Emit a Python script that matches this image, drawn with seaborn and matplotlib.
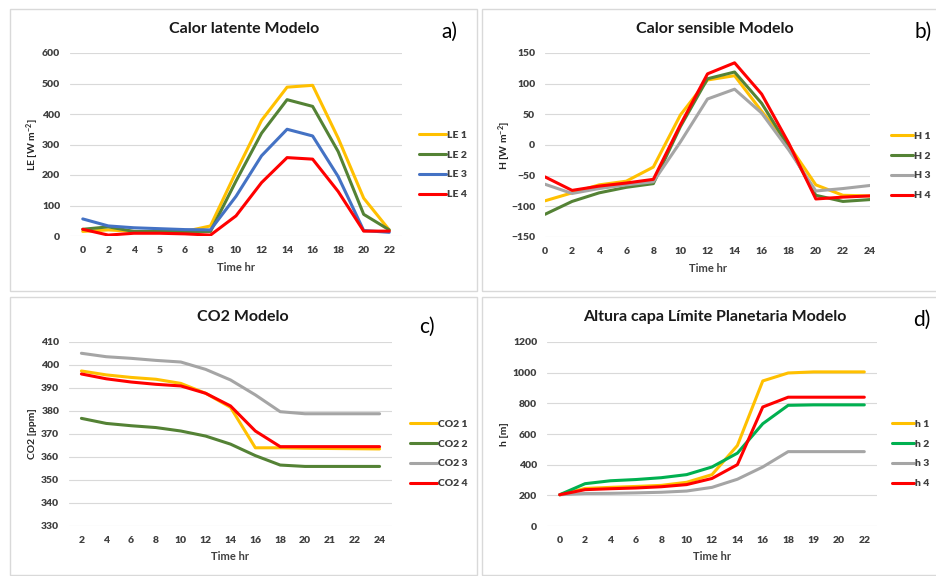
import numpy as np
import matplotlib
matplotlib.use("Agg")
import matplotlib.pyplot as plt
import seaborn as sns
from matplotlib.patches import Rectangle

# ---- data ----
le_hours = ["0", "2", "4", "5", "6", "8", "10", "12", "14", "16", "18", "20", "22"]
le1 = [15, 20, 15, 12, 15, 33, 210, 379, 488, 494, 321, 124, 20]
le2 = [22, 30, 15, 15, 15, 15, 180, 337, 447, 425, 277, 71, 20]
le3 = [56, 33, 27, 24, 21, 20, 130, 263, 350, 328, 195, 18, 12]
le4 = [22, 3, 9, 9, 7, 3, 66, 175, 257, 252, 146, 16, 16]
le_labels = ["LE 1", "LE 2", "LE 3", "LE 4"]

h_hours = ["0", "2", "4", "6", "8", "10", "12", "14", "16", "18", "20", "22", "24"]
h1 = [-91, -78, -65, -59, -36, 49, 106, 113, 55, 0, -65, -82, -83]
h2 = [-113, -92, -78, -69, -63, 30, 108, 119, 68, -3, -82, -92, -89]
h3 = [-64, -79, -71, -65, -60, 5, 75, 91, 52, -8, -75, -71, -66]
h4 = [-52, -74, -67, -62, -56, 33, 116, 134, 83, 3, -88, -85, -83]
h_labels = ["H 1", "H 2", "H 3", "H 4"]

co2_hours = ["2", "4", "6", "8", "10", "12", "14", "16", "18", "20", "21", "22", "24"]
co2_1 = [397.4, 395.7, 394.6, 393.8, 392.0, 387.7, 381.6, 364.0, 364.0, 363.8, 363.7, 363.6, 363.5]
co2_2 = [376.8, 374.6, 373.6, 372.8, 371.3, 369.1, 365.6, 360.6, 356.5, 355.9, 355.9, 355.9, 355.9]
co2_3 = [405.1, 403.6, 402.9, 402.0, 401.3, 398.1, 393.5, 387.0, 379.7, 378.8, 378.8, 378.8, 378.8]
co2_4 = [396.1, 394.0, 392.6, 391.6, 390.9, 387.7, 382.2, 371.3, 364.5, 364.5, 364.5, 364.5, 364.5]
co2_labels = ["CO2 1", "CO2 2", "CO2 3", "CO2 4"]

pbl_hours = ["0", "2", "4", "6", "8", "10", "12", "14", "16", "18", "19", "20", "22"]
pbl1 = [204, 245, 252, 258, 265, 285, 335, 525, 946, 998, 1005, 1005, 1005]
pbl2 = [204, 276, 295, 303, 315, 335, 385, 475, 667, 787, 790, 790, 790]
pbl3 = [204, 212, 213, 216, 220, 228, 252, 305, 385, 485, 485, 485, 485]
pbl4 = [204, 237, 243, 248, 256, 270, 310, 400, 776, 840, 840, 840, 840]
pbl_labels = ["h 1", "h 2", "h 3", "h 4"]

YELLOW, DKGREEN, GREEN = "#FFC000", "#548235", "#00B050"
BLUE, RED, GREY = "#4472C4", "#FF0000", "#A5A5A5"

# ---- figure ----
sns.set_theme(style="white")
plt.rcParams["font.family"] = ["Lato", "DejaVu Sans"]
plt.rcParams["mathtext.default"] = "regular"

W, H = 937, 576
fig = plt.figure(figsize=(W / 100, H / 100), dpi=100)


def fx(x):
    return x / W


def fy(y):
    return 1 - y / H


def panel(box, plot, cats, series, labels, colors, ylim, yticks, title,
          title_xy, tag, tag_xy, ylabel, ylabel_x, xlabel_xy, legend_xy,
          on_ticks=False, handle_len=2.6):
    bx0, by0, bx1, by1 = box
    fig.patches.append(Rectangle((fx(bx0), fy(by1)), fx(bx1 - bx0), (by1 - by0) / H,
                                 transform=fig.transFigure, fill=False,
                                 edgecolor="#d9d9d9", lw=1.0))
    l, t, r, b = plot
    ax = fig.add_axes([fx(l), fy(b), fx(r - l), (b - t) / H])
    idx = np.arange(len(cats))
    for vals, lab, col in zip(series, labels, colors):
        sns.lineplot(x=idx, y=vals, ax=ax, color=col, lw=2.2, label=lab,
                     legend=False)
    ax.set_xlim((0, len(cats) - 1) if on_ticks else (-0.5, len(cats) - 0.5))
    ax.set_ylim(*ylim)
    ax.set_yticks(list(yticks))
    ax.set_xticks(idx)
    ax.set_xticklabels(cats)
    ax.grid(axis="y", color="#d9d9d9", lw=0.8)
    ax.grid(axis="x", visible=False)
    for s in ax.spines.values():
        s.set_visible(False)
    ax.tick_params(axis="both", length=0, labelsize=7.5, labelcolor="#404040")
    ax.tick_params(axis="y", pad=7)
    ax.tick_params(axis="x", pad=7)
    for lbl in ax.get_xticklabels() + ax.get_yticklabels():
        lbl.set_fontweight("heavy")
    ax.set_xlabel("")
    ax.set_ylabel("")
    fig.text(fx(xlabel_xy[0]), fy(xlabel_xy[1]), "Time hr", ha="center",
             va="center", fontsize=8, fontweight="bold", color="#404040")
    fig.text(fx(ylabel_x), fy((t + b) / 2), ylabel, ha="center", va="center",
             rotation=90, fontsize=7.5, fontweight="bold", color="#262626")
    fig.text(fx(title_xy[0]), fy(title_xy[1]), title, ha="center", va="center",
             fontsize=11.5, fontweight="bold", color="#1a1a1a")
    fig.text(fx(tag_xy[0]), fy(tag_xy[1]), tag, ha="center", va="center",
             fontsize=15, color="#000000")
    handles = ax.get_lines()[:len(labels)]
    ax.legend(handles, labels, loc="center left",
              bbox_to_anchor=(fx(legend_xy[0]), fy(legend_xy[1])),
              bbox_transform=fig.transFigure, frameon=False,
              handlelength=handle_len, handletextpad=0.1, labelspacing=1.0,
              borderpad=0, borderaxespad=0,
              prop={"size": 7.5, "weight": "heavy"}, labelcolor="#404040")
    return ax


panel(box=(10, 9, 477, 291), plot=(70, 53, 402, 236), cats=le_hours,
      series=[le1, le2, le3, le4], labels=le_labels,
      colors=[YELLOW, DKGREEN, BLUE, RED], ylim=(0, 600),
      yticks=range(0, 601, 100), title="Calor latente Modelo",
      title_xy=(244, 29), tag="a)", tag_xy=(449, 32),
      ylabel=r"LE [W m$^{-2}$]", ylabel_x=33, xlabel_xy=(236, 267),
      legend_xy=(419, 165))

panel(box=(482, 9, 945, 291), plot=(545, 53, 870, 237), cats=h_hours,
      series=[h1, h2, h3, h4], labels=h_labels,
      colors=[YELLOW, DKGREEN, GREY, RED], ylim=(-150, 150),
      yticks=range(-150, 151, 50), title="Calor sensible Modelo",
      title_xy=(715, 29), tag="b)", tag_xy=(923, 32),
      ylabel=r"H [W m$^{-2}$]", ylabel_x=505, xlabel_xy=(708, 268),
      legend_xy=(891, 166), on_ticks=True, handle_len=2.1)

panel(box=(10, 297, 477, 575), plot=(69, 342, 392, 526), cats=co2_hours,
      series=[co2_1, co2_2, co2_3, co2_4], labels=co2_labels,
      colors=[YELLOW, DKGREEN, GREY, RED], ylim=(330, 410),
      yticks=range(330, 411, 10), title="CO2 Modelo",
      title_xy=(243, 317), tag="c)", tag_xy=(427, 327),
      ylabel="CO2 [ppm]", ylabel_x=33, xlabel_xy=(230, 557),
      legend_xy=(410, 454))

panel(box=(482, 297, 945, 575), plot=(547, 342, 877, 526), cats=pbl_hours,
      series=[pbl1, pbl2, pbl3, pbl4], labels=pbl_labels,
      colors=[YELLOW, GREEN, GREY, RED], ylim=(0, 1200),
      yticks=range(0, 1201, 200), title="Altura capa Límite Planetaria Modelo",
      title_xy=(715, 317), tag="d)", tag_xy=(922, 320),
      ylabel="h [m]", ylabel_x=505, xlabel_xy=(712, 557),
      legend_xy=(892, 454), handle_len=2.1)

fig.savefig("out.png", dpi=100, facecolor="white")
